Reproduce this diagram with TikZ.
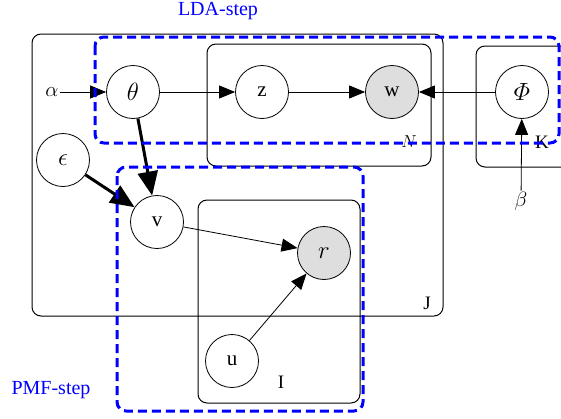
\documentclass[tikz,border=0pt]{standalone}
\usepackage{amsmath}
\usepackage{fontspec}
\setmainfont{Liberation Serif}
\usetikzlibrary{arrows.meta}
\begin{document}
\begin{tikzpicture}[x=1pt,y=-1pt,
 var/.style={circle,draw,line width=0.8pt,minimum size=53pt,inner sep=0pt,font=\fontsize{21}{24}\selectfont},
 obs/.style={var,fill=black!13},
 mathlab/.style={font=\fontsize{24}{28}\selectfont},
 plate/.style={draw,line width=1pt,rounded corners=9pt},
 platelab/.style={font=\fontsize{19}{22}\selectfont,inner sep=0pt},
 stepbox/.style={draw=blue,line width=3pt,dash pattern=on 9pt off 5pt,rounded corners=9pt},
 steplab/.style={text=blue,font=\fontsize{20}{24}\selectfont,inner sep=0pt},
 edge/.style={-{Triangle[length=16pt,width=13pt]},line width=0.8pt},
 heavy/.style={-{Triangle[length=24pt,width=20pt]},line width=3pt}]
\useasboundingbox (0,0) rectangle (561,418);
% plates
\draw[plate] (32,34) rectangle (443,316);
\draw[plate] (207,44) rectangle (431,166);
\draw[plate] (476,46) rectangle (585,167);
\draw[plate] (198,200) rectangle (360,403);
\node[platelab] (labN) at (409,142) {$N$};
\node[platelab] (labK) at (542,142) {K};
\node[platelab] (labJ) at (427,303) {J};
\node[platelab] (labI) at (281,382) {I};
% nodes
\node[var,mathlab] (theta) at (133,92) {$\theta$};
\node[var] (z) at (262,92) {z};
\node[obs] (w) at (392,92) {w};
\node[var,mathlab] (phi) at (522,92) {$\varPhi$};
\node[var,mathlab] (eps) at (63,160) {$\epsilon$};
\node[var] (v) at (157,222) {v};
\node[obs,mathlab] (r) at (324,253) {$r$};
\node[var] (u) at (232,361) {u};
\node[inner sep=1pt,font=\fontsize{22}{26}\selectfont] (alpha) at (52,92) {$\alpha$};
\node[inner sep=1pt,font=\fontsize{22}{26}\selectfont] (beta) at (521,201) {$\beta$};
% edges
\draw[edge] (alpha) -- (theta);
\draw[edge] (theta) -- (z);
\draw[edge] (z) -- (w);
\draw[edge] (phi) -- (w);
\draw[edge] (beta) -- (phi);
\draw[edge] (v) -- (r);
\draw[edge] (u) -- (r);
\draw[heavy] (theta) -- (v);
\draw[heavy] (eps) -- (v);
% step boxes
\draw[stepbox] (95,37) rectangle (559,143);
\draw[stepbox] (117,167) rectangle (363,411);
\node[steplab] (lda) at (218,11) {LDA-step};
\node[steplab] (pmf) at (51,390) {PMF-step};
\end{tikzpicture}
\end{document}
